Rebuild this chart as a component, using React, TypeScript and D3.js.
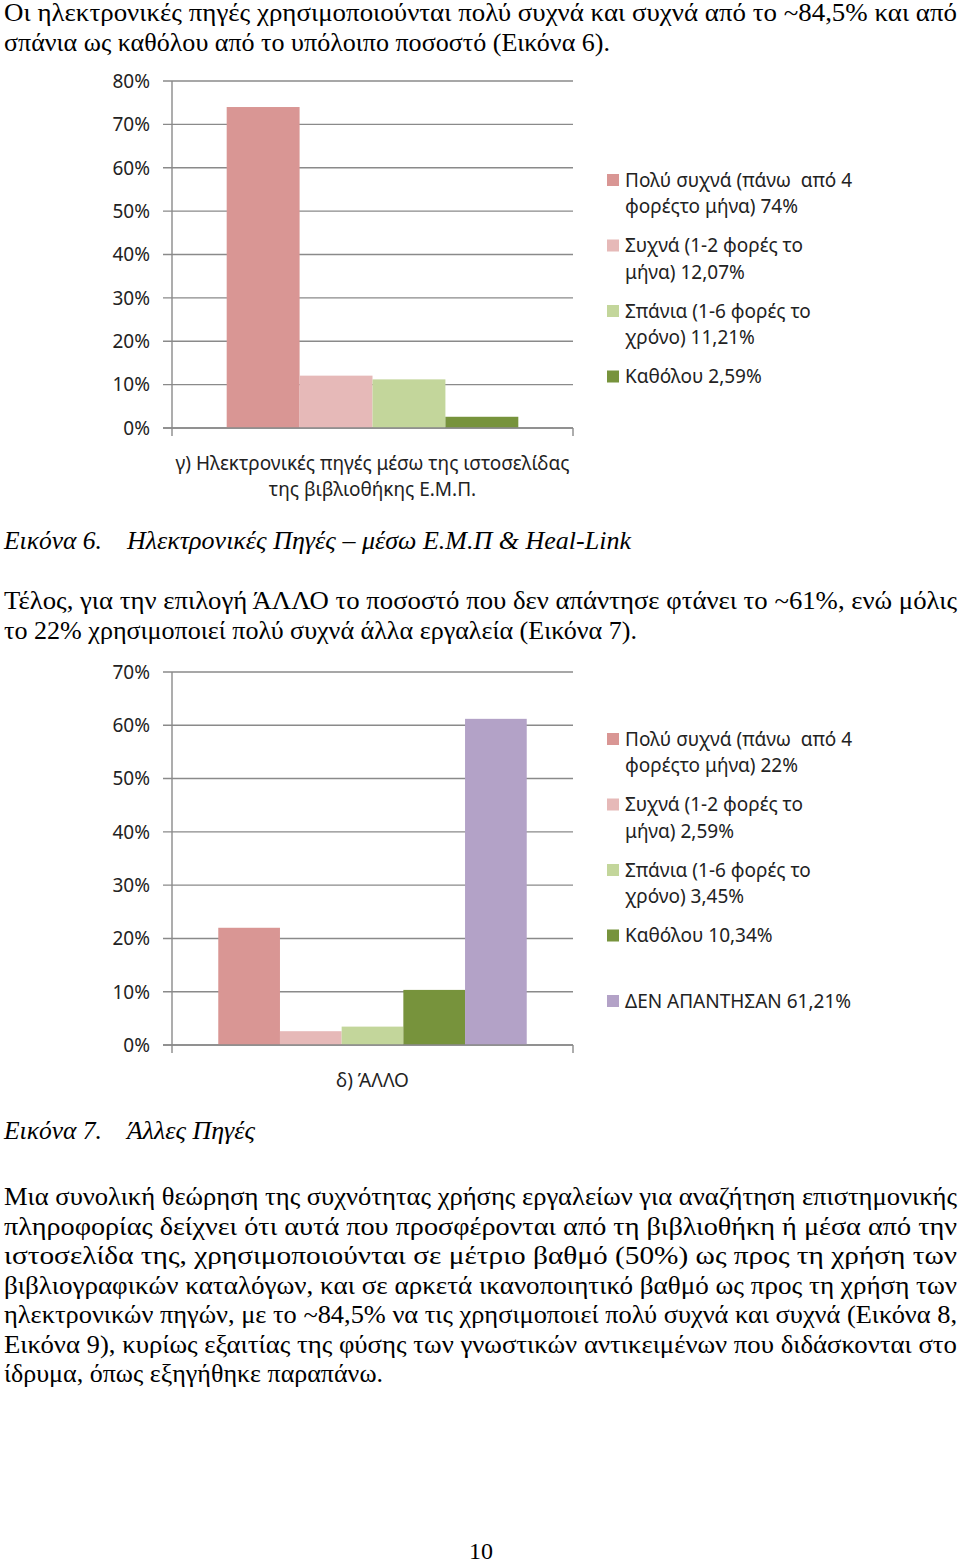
import React from "react";
import * as d3 from "d3";

// ---------- DATA ----------
const series1 = ["Πολύ συχνά", "Συχνά", "Σπάνια", "Καθόλου"];
const values1 = [74, 12.07, 11.21, 2.59];
const legend1 = [
  ["Πολύ συχνά (πάνω  από 4", "φορέςτο μήνα) 74%"],
  ["Συχνά (1-2 φορές το", "μήνα) 12,07%"],
  ["Σπάνια (1-6 φορές το", "χρόνο) 11,21%"],
  ["Καθόλου 2,59%"],
];
const category1 = ["γ) Ηλεκτρονικές πηγές μέσω της ιστοσελίδας", "της βιβλιοθήκης Ε.Μ.Π."];
const ticks1 = [0, 10, 20, 30, 40, 50, 60, 70, 80];

const series2 = ["Πολύ συχνά", "Συχνά", "Σπάνια", "Καθόλου", "ΔΕΝ ΑΠΑΝΤΗΣΑΝ"];
const values2 = [22, 2.59, 3.45, 10.34, 61.21];
const legend2 = [
  ["Πολύ συχνά (πάνω  από 4", "φορέςτο μήνα) 22%"],
  ["Συχνά (1-2 φορές το", "μήνα) 2,59%"],
  ["Σπάνια (1-6 φορές το", "χρόνο) 3,45%"],
  ["Καθόλου 10,34%"],
  ["ΔΕΝ ΑΠΑΝΤΗΣΑΝ 61,21%"],
];
const category2 = ["δ) ΆΛΛΟ"];
const ticks2 = [0, 10, 20, 30, 40, 50, 60, 70];

const para1 = [
  "Οι ηλεκτρονικές πηγές χρησιμοποιούνται πολύ συχνά και συχνά από το ~84,5% και από",
  "σπάνια ως καθόλου από το υπόλοιπο ποσοστό (Εικόνα 6).",
];
const caption6 = ["Εικόνα 6.", "Ηλεκτρονικές Πηγές – μέσω Ε.Μ.Π & Heal-Link"];
const para2 = [
  "Τέλος, για την επιλογή ΆΛΛΟ το ποσοστό που δεν απάντησε φτάνει το ~61%, ενώ μόλις",
  "το 22% χρησιμοποιεί πολύ συχνά άλλα εργαλεία (Εικόνα 7).",
];
const caption7 = ["Εικόνα 7.", "Άλλες Πηγές"];
const para3 = [
  "Μια συνολική θεώρηση της συχνότητας χρήσης εργαλείων για αναζήτηση επιστημονικής",
  "πληροφορίας δείχνει ότι αυτά που προσφέρονται από τη βιβλιοθήκη ή μέσα από την",
  "ιστοσελίδα της, χρησιμοποιούνται σε μέτριο βαθμό (50%) ως προς τη χρήση των",
  "βιβλιογραφικών καταλόγων, και σε αρκετά ικανοποιητικό βαθμό ως προς τη χρήση των",
  "ηλεκτρονικών πηγών, με το ~84,5% να τις χρησιμοποιεί πολύ συχνά και συχνά (Εικόνα 8,",
  "Εικόνα 9), κυρίως εξαιτίας της φύσης των γνωστικών αντικειμένων που διδάσκονται στο",
  "ίδρυμα, όπως εξηγήθηκε παραπάνω.",
];
const pageNumber = "10";

// ---------- STYLE ----------
const COLORS = ["#D99694", "#E6B9B8", "#C3D69B", "#77933C", "#B3A2C7"];
const SERIF = "'Liberation Serif', 'Times New Roman', serif";
const SANS = "'Noto Sans', 'Open Sans', sans-serif";
const TEXT = "#222";
const GRID = "#8a8a8a";
const BODY_FS = 25;
const CHART_FS = 19;
const LINE_RIGHT = 957;
const LINE_LEFT = 4;

type ChartProps = {
  series: string[];
  values: number[];
  legend: string[][];
  category: string[];
  ticks: number[];
  left: number;
  right: number;
  top: number;
  bottom: number;
  legendY: number;
  catY: number;
};

function BarChart(p: ChartProps) {
  const maxV = p.ticks[p.ticks.length - 1];
  const y = d3.scaleLinear().domain([0, maxV]).range([p.bottom, p.top]);
  const x = d3
    .scaleBand<string>()
    .domain(p.series)
    .range([p.left, p.right])
    .paddingInner(0)
    .paddingOuter(0.75);
  const mid = (p.left + p.right) / 2;
  return (
    <g>
      {p.ticks.map((t) => (
        <line
          key={"g" + t}
          x1={p.left - 9}
          x2={p.right}
          y1={y(t)}
          y2={y(t)}
          stroke={GRID}
          strokeWidth={1.4}
        />
      ))}
      {p.ticks.map((t) => (
        <text
          key={"t" + t}
          x={150}
          y={y(t)}
          dy="0.36em"
          textAnchor="end"
          fontFamily={SANS}
          fontSize={CHART_FS}
          fill={TEXT}
        >
          {t + "%"}
        </text>
      ))}
      {p.series.map((s, i) => (
        <rect
          key={s}
          x={x(s)}
          width={x.bandwidth()}
          y={y(p.values[i])}
          height={p.bottom - y(p.values[i])}
          fill={COLORS[i]}
        />
      ))}
      <line x1={p.left} x2={p.left} y1={p.top} y2={p.bottom + 8} stroke={GRID} strokeWidth={1.4} />
      <line x1={p.right} x2={p.right} y1={p.bottom} y2={p.bottom + 8} stroke={GRID} strokeWidth={1.4} />
      <line x1={p.left - 9} x2={p.right} y1={p.bottom} y2={p.bottom} stroke={GRID} strokeWidth={1.4} />
      {p.category.map((c, i) => (
        <text
          key={c}
          x={mid}
          y={p.catY + i * 26}
          textAnchor="middle"
          fontFamily={SANS}
          fontSize={CHART_FS}
          fill={TEXT}
        >
          {c}
        </text>
      ))}
      {p.legend.map((lines, i) => {
        const cy = p.legendY + i * 65.5;
        return (
          <g key={"l" + i}>
            <rect x={607} y={cy - 6} width={12} height={12} fill={COLORS[i]} />
            {lines.map((ln, j) => (
              <text
                key={j}
                x={625}
                y={cy + j * 26.5}
                dy="0.36em"
                fontFamily={SANS}
                fontSize={CHART_FS}
                fill={TEXT}
                style={{ whiteSpace: "pre" }}
              >
                {ln}
              </text>
            ))}
          </g>
        );
      })}
    </g>
  );
}

function BodyLine({ text, y, x0 = LINE_LEFT, x1 = LINE_RIGHT, italic = false }: any) {
  return (
    <text
      x={x0}
      y={y}
      fontFamily={SERIF}
      fontSize={BODY_FS}
      fontStyle={italic ? "italic" : "normal"}
      textLength={x1 - x0}
      lengthAdjust="spacingAndGlyphs"
      fill="#000"
    >
      {text}
    </text>
  );
}

export default function App() {
  const p1Ends = [LINE_RIGHT, 610];
  const p2Ends = [LINE_RIGHT, 637];
  const p3Ends = [LINE_RIGHT, LINE_RIGHT, LINE_RIGHT, LINE_RIGHT, LINE_RIGHT, LINE_RIGHT, 383];
  const p3Base = [1205, 1235, 1264, 1294, 1323, 1353, 1382];
  return (
    <svg
      width={960}
      height={1565}
      viewBox="0 0 960 1565"
      style={{ position: "absolute", left: 0, top: 0, background: "#fff" }}
    >
      <rect width={960} height={1565} fill="#fff" />
      {para1.map((t, i) => (
        <BodyLine key={"p1" + i} text={t} y={21 + i * 29.5} x1={p1Ends[i]} />
      ))}
      <BarChart
        series={series1}
        values={values1}
        legend={legend1}
        category={category1}
        ticks={ticks1}
        left={172}
        right={573}
        top={81}
        bottom={428}
        legendY={180}
        catY={470}
      />
      <BodyLine text={caption6[0]} y={549} x1={102} italic />
      <BodyLine text={caption6[1]} y={549} x0={127} x1={631} italic />
      {para2.map((t, i) => (
        <BodyLine key={"p2" + i} text={t} y={609 + i * 29.5} x1={p2Ends[i]} />
      ))}
      <BarChart
        series={series2}
        values={values2}
        legend={legend2}
        category={category2}
        ticks={ticks2}
        left={172}
        right={573}
        top={672}
        bottom={1045}
        legendY={739}
        catY={1087}
      />
      <BodyLine text={caption7[0]} y={1139} x1={102} italic />
      <BodyLine text={caption7[1]} y={1139} x0={127} x1={255} italic />
      {para3.map((t, i) => (
        <BodyLine key={"p3" + i} text={t} y={p3Base[i]} x1={p3Ends[i]} />
      ))}
      <text x={481} y={1559} textAnchor="middle" fontFamily={SERIF} fontSize={24} fill="#000">
        {pageNumber}
      </text>
    </svg>
  );
}
